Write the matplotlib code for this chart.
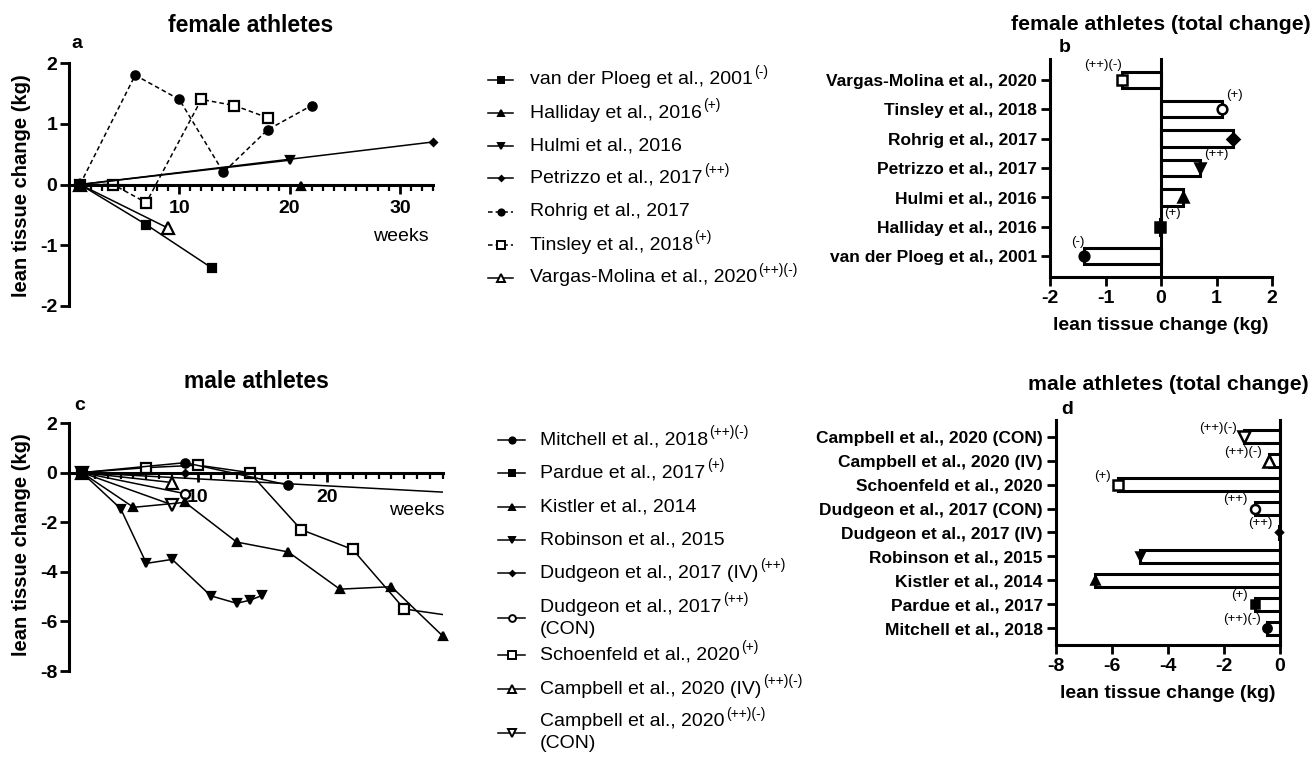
import numpy as np
import matplotlib.pyplot as plt

plt.rcParams['font.family'] = ['Liberation Sans', 'DejaVu Sans']
plt.rcParams['axes.unicode_minus'] = False

W, H = 1312, 764

# ---- female athletes: change over time (panel a) ----
fem_names = ['van der Ploeg et al., 2001', 'Halliday et al., 2016', 'Hulmi et al., 2016',
             'Petrizzo et al., 2017', 'Rohrig et al., 2017', 'Tinsley et al., 2018',
             'Vargas-Molina et al., 2020']
fem_notes = ['(-)', '(+)', '', '(++)', '', '(+)', '(++)(-)']
vdp_wk = [1, 7, 13]
vdp_kg = [0, -0.66, -1.38]
hal_wk = [1, 21]
hal_kg = [0, -0.02]
hul_wk = [1, 20]
hul_kg = [0, 0.4]
pet_wk = [1, 33]
pet_kg = [0, 0.7]
roh_wk = [1, 6, 10, 14, 18, 22]
roh_kg = [0, 1.8, 1.4, 0.2, 0.9, 1.3]
tin_wk = [1, 4, 7, 12, 15, 18]
tin_kg = [0, 0, -0.3, 1.4, 1.3, 1.1]
var_wk = [1, 9]
var_kg = [0, -0.72]

# ---- female athletes: total change (panel b), bottom -> top ----
fem_total = [-1.38, -0.02, 0.4, 0.7, 1.3, 1.1, -0.7]

# ---- male athletes: change over time (panel c) ----
male_names = ['Mitchell et al., 2018', 'Pardue et al., 2017', 'Kistler et al., 2014',
              'Robinson et al., 2015', 'Dudgeon et al., 2017 (IV)', 'Dudgeon et al., 2017 (CON)',
              'Schoenfeld et al., 2020', 'Campbell et al., 2020 (IV)', 'Campbell et al., 2020 (CON)']
male_notes = ['(++)(-)', '(+)', '', '', '(++)', '(++)', '(+)', '(++)(-)', '(++)(-)']
mit_wk = [1, 9, 17]
mit_kg = [0, 0.4, -0.5]
par_wk = [1, 33]
par_kg = [0, -0.9]
kis_wk = [1, 5, 9, 13, 17, 21, 25, 29]
kis_kg = [0, -1.4, -1.2, -2.8, -3.2, -4.7, -4.6, -6.6]
rob_wk = [1, 4, 6, 8, 11, 13, 14, 15]
rob_kg = [0, -1.45, -3.66, -3.5, -4.97, -5.27, -5.15, -4.95]
dui_wk = [1, 9]
dui_kg = [0, -0.03]
duc_wk = [1, 9]
duc_kg = [0, -0.85]
sch_wk = [1, 6, 10, 14, 18, 22, 26, 30]
sch_kg = [0, 0.2, 0.3, 0, -2.3, -3.1, -5.5, -5.8]
cai_wk = [1, 8]
cai_kg = [0, -0.4]
cac_wk = [1, 8]
cac_kg = [0, -1.3]

# ---- male athletes: total change (panel d), bottom -> top ----
male_total = [-0.45, -0.9, -6.6, -5.0, -0.02, -0.9, -5.8, -0.4, -1.3]

fem_series = [(vdp_wk, vdp_kg), (hal_wk, hal_kg), (hul_wk, hul_kg), (pet_wk, pet_kg),
              (roh_wk, roh_kg), (tin_wk, tin_kg), (var_wk, var_kg)]
male_series = [(mit_wk, mit_kg), (par_wk, par_kg), (kis_wk, kis_kg), (rob_wk, rob_kg),
               (dui_wk, dui_kg), (duc_wk, duc_kg), (sch_wk, sch_kg), (cai_wk, cai_kg),
               (cac_wk, cac_kg)]

DASH = (0, (3, 2))
fem_style = [
    dict(marker='s', ms=6, mfc='black', ls='-'),
    dict(marker='^', ms=6, mfc='black', ls='-'),
    dict(marker='v', ms=6, mfc='black', ls='-'),
    dict(marker='D', ms=3.5, mfc='black', ls='-'),
    dict(marker='o', ms=6, mfc='black', ls=DASH),
    dict(marker='s', ms=7, mfc='white', ls=DASH),
    dict(marker='^', ms=8, mfc='white', ls='-'),
]
# markers on the bars of panel b (bottom -> top), as drawn in the original
fem_bar_style = [
    dict(marker='o', ms=7, mfc='black'),
    dict(marker='s', ms=7, mfc='black'),
    dict(marker='^', ms=7, mfc='black'),
    dict(marker='v', ms=7, mfc='black'),
    dict(marker='D', ms=6, mfc='black'),
    dict(marker='o', ms=7, mfc='white'),
    dict(marker='s', ms=7, mfc='white'),
]
male_style = [
    dict(marker='o', ms=6, mfc='black', ls='-'),
    dict(marker='s', ms=6, mfc='black', ls='-'),
    dict(marker='^', ms=6, mfc='black', ls='-'),
    dict(marker='v', ms=6, mfc='black', ls='-'),
    dict(marker='D', ms=3.5, mfc='black', ls='-'),
    dict(marker='o', ms=6.5, mfc='white', ls='-'),
    dict(marker='s', ms=7.5, mfc='white', ls='-'),
    dict(marker='^', ms=8, mfc='white', ls='-'),
    dict(marker='v', ms=8, mfc='white', ls='-'),
]


def bold_ticks(ax):
    for lab in ax.get_xticklabels() + ax.get_yticklabels():
        lab.set_fontweight('bold')


def time_panel(ax, series, styles, xmax, ymin, ymax, ystep, weeks_xy):
    # draw in reverse so the first study sits on top at the origin
    for (wk, kg), st in reversed(list(zip(series, styles))):
        st = dict(st)
        ls = st.pop('ls')
        ax.plot(wk, kg, color='black', lw=1.1, linestyle=ls, mec='black', mew=1.6,
                clip_on=max(wk) > xmax, **st)
    ax.set_xlim(0, xmax)
    ax.set_ylim(ymin, ymax)
    ax.set_facecolor('none')
    for s in ['top', 'right']:
        ax.spines[s].set_visible(False)
    ax.spines['bottom'].set_position(('data', 0))
    ax.spines['left'].set_linewidth(2.2)
    ax.spines['bottom'].set_linewidth(2.2)
    ax.set_xticks(range(10, xmax + 1, 10))
    ax.set_xticks(range(1, xmax + 1), minor=True)
    ax.set_yticks(np.arange(ymin, ymax + 0.01, ystep))
    ax.tick_params(axis='x', which='major', length=6.5, width=2, labelsize=14, pad=5)
    ax.tick_params(axis='x', which='minor', length=4.3, width=1.6)
    ax.tick_params(axis='y', length=6.5, width=2, labelsize=14, pad=2)
    bold_ticks(ax)
    ax.text(weeks_xy[0], weeks_xy[1], 'weeks', ha='center', va='center', fontsize=14)


def bar_panel(ax, names, totals, styles, notes, xmin, xmax, xticks, gap, note_dy):
    y = np.arange(len(names))
    ax.barh(y, totals, height=0.55, color='white', edgecolor='black', linewidth=2.2, zorder=2)
    for yi, v, st in zip(y, totals, styles):
        st = {k: val for k, val in st.items() if k != 'ls'}
        ax.plot(v, yi, color='black', linestyle='none', mec='black', mew=1.8, zorder=3,
                clip_on=False, **st)
    for yi, v, nt in zip(y, totals, notes):
        if not nt:
            continue
        if v > -0.05 and xmax > 0:
            ax.text(v + 0.08, yi + note_dy, nt, ha='left', va='center', fontsize=9.5)
        else:
            ax.text(v - gap, yi + note_dy, nt, ha='right', va='center', fontsize=9.5)
    ax.axvline(0, color='black', lw=2.2, zorder=4, clip_on=False)
    ax.set_xlim(xmin, xmax)
    ax.set_ylim(-0.7, len(names) - 0.3)
    ax.set_facecolor('none')
    for s in ['top', 'right']:
        ax.spines[s].set_visible(False)
    ax.spines['left'].set_linewidth(2.2)
    ax.spines['bottom'].set_linewidth(2.2)
    ax.set_yticks(y)
    ax.set_yticklabels(names, fontsize=12.5)
    ax.set_xticks(xticks)
    ax.tick_params(axis='both', length=6.5, width=2, pad=3)
    ax.tick_params(axis='x', labelsize=14)
    bold_ticks(ax)
    ax.set_xlabel('lean tissue change (kg)', fontsize=14, fontweight='bold', labelpad=7)


fig = plt.figure(figsize=(W / 100, H / 100), dpi=100)

ax_a = fig.add_axes([69 / W, 1 - 306 / H, 364 / W, 243 / H])
time_panel(ax_a, fem_series, fem_style, 33, -2, 2, 1, (30.1, -0.86))

ax_c = fig.add_axes([69 / W, 1 - 671 / H, 374 / W, 248 / H])
time_panel(ax_c, male_series, male_style, 29, -8, 2, 2, (27.0, -1.53))

ax_b = fig.add_axes([1050 / W, 1 - 277 / H, 222 / W, 218 / H])
bar_panel(ax_b, fem_names, fem_total, fem_bar_style, fem_notes, -2, 2, [-2, -1, 0, 1, 2], 0.0, 0.48)

ax_d = fig.add_axes([1056 / W, 1 - 645 / H, 224 / W, 225 / H])
bar_panel(ax_d, male_names, male_total, male_style, male_notes, -8, 0, [-8, -6, -4, -2, 0], 0.25, 0.38)

# overlay in pixel coordinates for titles and legends
lax = fig.add_axes([0, 0, 1, 1])
lax.set_xlim(0, W)
lax.set_ylim(H, 0)
lax.axis('off')

for x, y, s, fs in [(251, 25, 'female athletes', 16.5),
                    (1161, 25, 'female athletes (total change)', 15.3),
                    (256, 382, 'male athletes', 16.5),
                    (1168, 385, 'male athletes (total change)', 15.3)]:
    lax.text(x, y, s, ha='center', va='center', fontsize=fs, fontweight='bold')
for x, y, s in [(77, 43, 'a'), (1065, 47, 'b'), (80, 405, 'c'), (1067, 409, 'd')]:
    lax.text(x, y, s, ha='center', va='center', fontsize=14, fontweight='bold')
for y in [186, 545]:
    lax.text(22, y, 'lean tissue change (kg)', rotation=90, ha='center', va='center',
             fontsize=14.5, fontweight='bold')


def legend_entry(x0, x1, xt, y, style, name, note, two_lines=False):
    st = dict(style)
    ls = st.pop('ls')
    st['ms'] = st['ms'] * 0.75
    if two_lines:
        first, second = name.split(' (CON)')[0], '(CON)'
        ym = y + 11
    else:
        first, second = name, None
        ym = y
    lax.plot([x0, (x0 + x1) / 2, x1], [ym, ym, ym], color='black', lw=1.1, linestyle=ls,
             markevery=[1], mec='black', mew=1.4, clip_on=False, **st)
    t = lax.text(xt, y, first, ha='left', va='center', fontsize=14)
    if second:
        lax.text(xt, y + 22, second, ha='left', va='center', fontsize=14)
    if note:
        lax.annotate(note, xy=(1, 0.5), xycoords=t, xytext=(1, 6), textcoords='offset points',
                     ha='left', va='center', fontsize=10)


fem_leg_y = [80, 113, 146, 178, 212, 245, 278]
for y, st, nm, nt in zip(fem_leg_y, fem_style, fem_names, fem_notes):
    legend_entry(488, 513, 530, y, st, nm, nt)

male_leg_y = [440, 473, 507, 540, 573, 607, 655, 689, 722]
for y, st, nm, nt in zip(male_leg_y, male_style, male_names, male_notes):
    legend_entry(498, 525, 540, y, st, nm, nt, two_lines=nm.endswith('(CON)'))

fig.savefig('out.png', dpi=100)
